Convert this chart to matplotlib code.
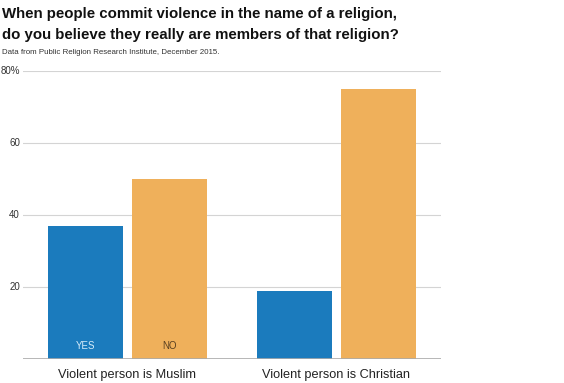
import numpy as np
import matplotlib.pyplot as plt

# Datos
categorias = ['Violent person is Muslim', 'Violent person is Christian']
si = [37, 19]
no = [50, 75]
yticks = [20, 40, 60, 80]
ytick_labels = ['20', '40', '60', '80%']

clr_si = '#1b7bbd'
clr_no = '#efb05b'
fuente = 'Liberation Sans'

fig = plt.figure(figsize=(5.64, 3.83), dpi=100)
ax = fig.add_axes([23/564, 1 - 359/383, (441 - 23)/564, (359 - 71)/383])

x = np.arange(len(categorias))
w, off = 0.36, 0.2
ax.bar(x - off, si, w, color=clr_si, zorder=2)
ax.bar(x + off, no, w, color=clr_no, zorder=2)

for yv in yticks:
    ax.axhline(yv, color='#d4d4d4', linewidth=0.8, zorder=1)
ax.axhline(0, color='#aaaaaa', linewidth=1.2, zorder=3)

ax.set_xlim(-0.5, 1.5)
ax.set_ylim(0, 80)
ax.set_xticks([])
ax.set_yticks([])
for s in ax.spines.values():
    s.set_visible(False)

# etiquetas del eje y
for yv, lab in zip(yticks, ytick_labels):
    fig.text(20/564, ax.transData.transform((0, yv))[1]/383, lab, ha='right',
             va='center', fontsize=7, color='#333333', family=fuente)

# categorias
for xi, cat in zip(x, categorias):
    ax.text(xi, -4.4, cat, ha='center', va='center', fontsize=9.2,
            color='#222222', family=fuente)

ax.text(x[0] - off, 3.5, 'YES', ha='center', va='center', fontsize=7,
        color='#d6ecfa', family=fuente)
ax.text(x[0] + off, 3.5, 'NO', ha='center', va='center', fontsize=7,
        color='#5a4020', family=fuente)

fig.text(2/564, 1 - 14/383,
         'When people commit violence in the name of a religion,',
         ha='left', va='center', fontsize=10.8, fontweight='bold',
         color='#111111', family=fuente)
fig.text(2/564, 1 - 35/383,
         'do you believe they really are members of that religion?',
         ha='left', va='center', fontsize=10.8, fontweight='bold',
         color='#111111', family=fuente)
fig.text(2/564, 1 - 52/383,
         'Data from Public Religion Research Institute, December 2015.',
         ha='left', va='center', fontsize=5.7, color='#333333', family=fuente)

fig.savefig('out.png', dpi=100)
